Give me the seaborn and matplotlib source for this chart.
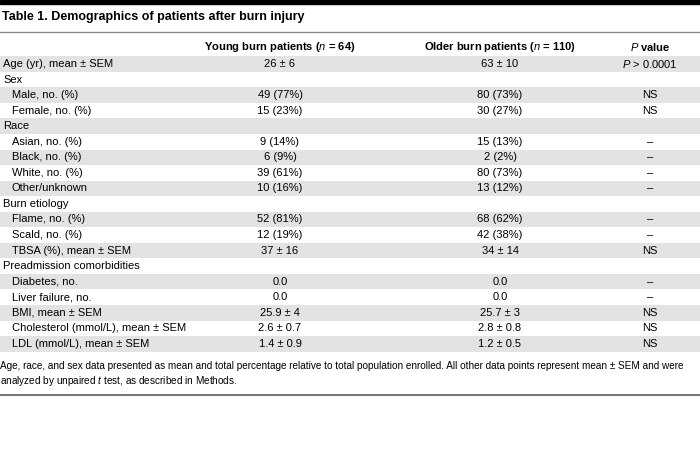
import seaborn as sns
import matplotlib.pyplot as plt
from matplotlib.patches import Rectangle

sns.set_style("white")
plt.rcParams['font.family'] = ['Liberation Sans', 'DejaVu Sans']
plt.rcParams['text.color'] = 'black'
plt.rcParams['mathtext.fontset'] = 'custom'
plt.rcParams['mathtext.it'] = 'Liberation Sans:italic'
plt.rcParams['mathtext.rm'] = 'Liberation Sans'
plt.rcParams['mathtext.bf'] = 'Liberation Sans:bold'

# Table content
title = "Table 1. Demographics of patients after burn injury"
headers = ["Young burn patients ($\\it{n}$ = 64)", "Older burn patients ($\\it{n}$ = 110)", "$\\it{P}$ value"]
row_labels = ["Age (yr), mean ± SEM", "Sex", "Male, no. (%)", "Female, no. (%)", "Race",
              "Asian, no. (%)", "Black, no. (%)", "White, no. (%)", "Other/unknown",
              "Burn etiology", "Flame, no. (%)", "Scald, no. (%)", "TBSA (%), mean ± SEM",
              "Preadmission comorbidities", "Diabetes, no.", "Liver failure, no.",
              "BMI, mean ± SEM", "Cholesterol (mmol/L), mean ± SEM", "LDL (mmol/L), mean ± SEM"]
indented = [False, False, True, True, False, True, True, True, True,
            False, True, True, True, False, True, True, True, True, True]
young = ["26 ± 6", "", "49 (77%)", "15 (23%)", "", "9 (14%)", "6 (9%)", "39 (61%)", "10 (16%)",
         "", "52 (81%)", "12 (19%)", "37 ± 16", "", "0.0", "0.0", "25.9 ± 4", "2.6 ± 0.7", "1.4 ± 0.9"]
older = ["63 ± 10", "", "80 (73%)", "30 (27%)", "", "15 (13%)", "2 (2%)", "80 (73%)", "13 (12%)",
         "", "68 (62%)", "42 (38%)", "34 ± 14", "", "0.0", "0.0", "25.7 ± 3", "2.8 ± 0.8", "1.2 ± 0.5"]
pvals = ["$\\it{P}$ > 0.0001", "", "NS", "NS", "", "–", "–", "–", "–",
         "", "–", "–", "NS", "", "–", "–", "NS", "NS", "NS"]
footnote = ["Age, race, and sex data presented as mean and total percentage relative to total population enrolled. All other data points represent mean ± SEM and were",
            "analyzed by unpaired $\\it{t}$ test, as described in Methods."]

fig = plt.figure(figsize=(7, 4.51), dpi=100)
ax = fig.add_axes([0, 0, 1, 1])
ax.set_xlim(0, 700)
ax.set_ylim(451, 0)
ax.axis('off')

fs = 8
col_x = [280, 500, 650]
row_h = 15.55
y0 = 64

# rules
ax.add_patch(Rectangle((0, 0), 700, 4, color='black'))
ax.text(2, 17, title, fontsize=9, fontweight='bold', va='center')
ax.plot([0, 700], [32, 32], color='#888888', lw=1)
for x, h in zip(col_x, headers):
    ax.text(x, 47, h, fontsize=fs, fontweight='bold', ha='center', va='center')

for i, lab in enumerate(row_labels):
    y = y0 + i * row_h
    if i % 2 == 0:
        ax.add_patch(Rectangle((0, y - row_h / 2), 700, row_h, color='#e3e3e3', lw=0))
    ax.text(12 if indented[i] else 3, y, lab, fontsize=fs, va='center')
    for x, v in zip(col_x, [young[i], older[i], pvals[i]]):
        ax.text(x, y, v, fontsize=fs, ha='center', va='center')

for j, line in enumerate(footnote):
    ax.text(0, 366 + j * 15, line, fontsize=7.2, va='center')
ax.plot([0, 700], [395, 395], color='#777777', lw=1.5)

fig.savefig("out.png", dpi=100)
